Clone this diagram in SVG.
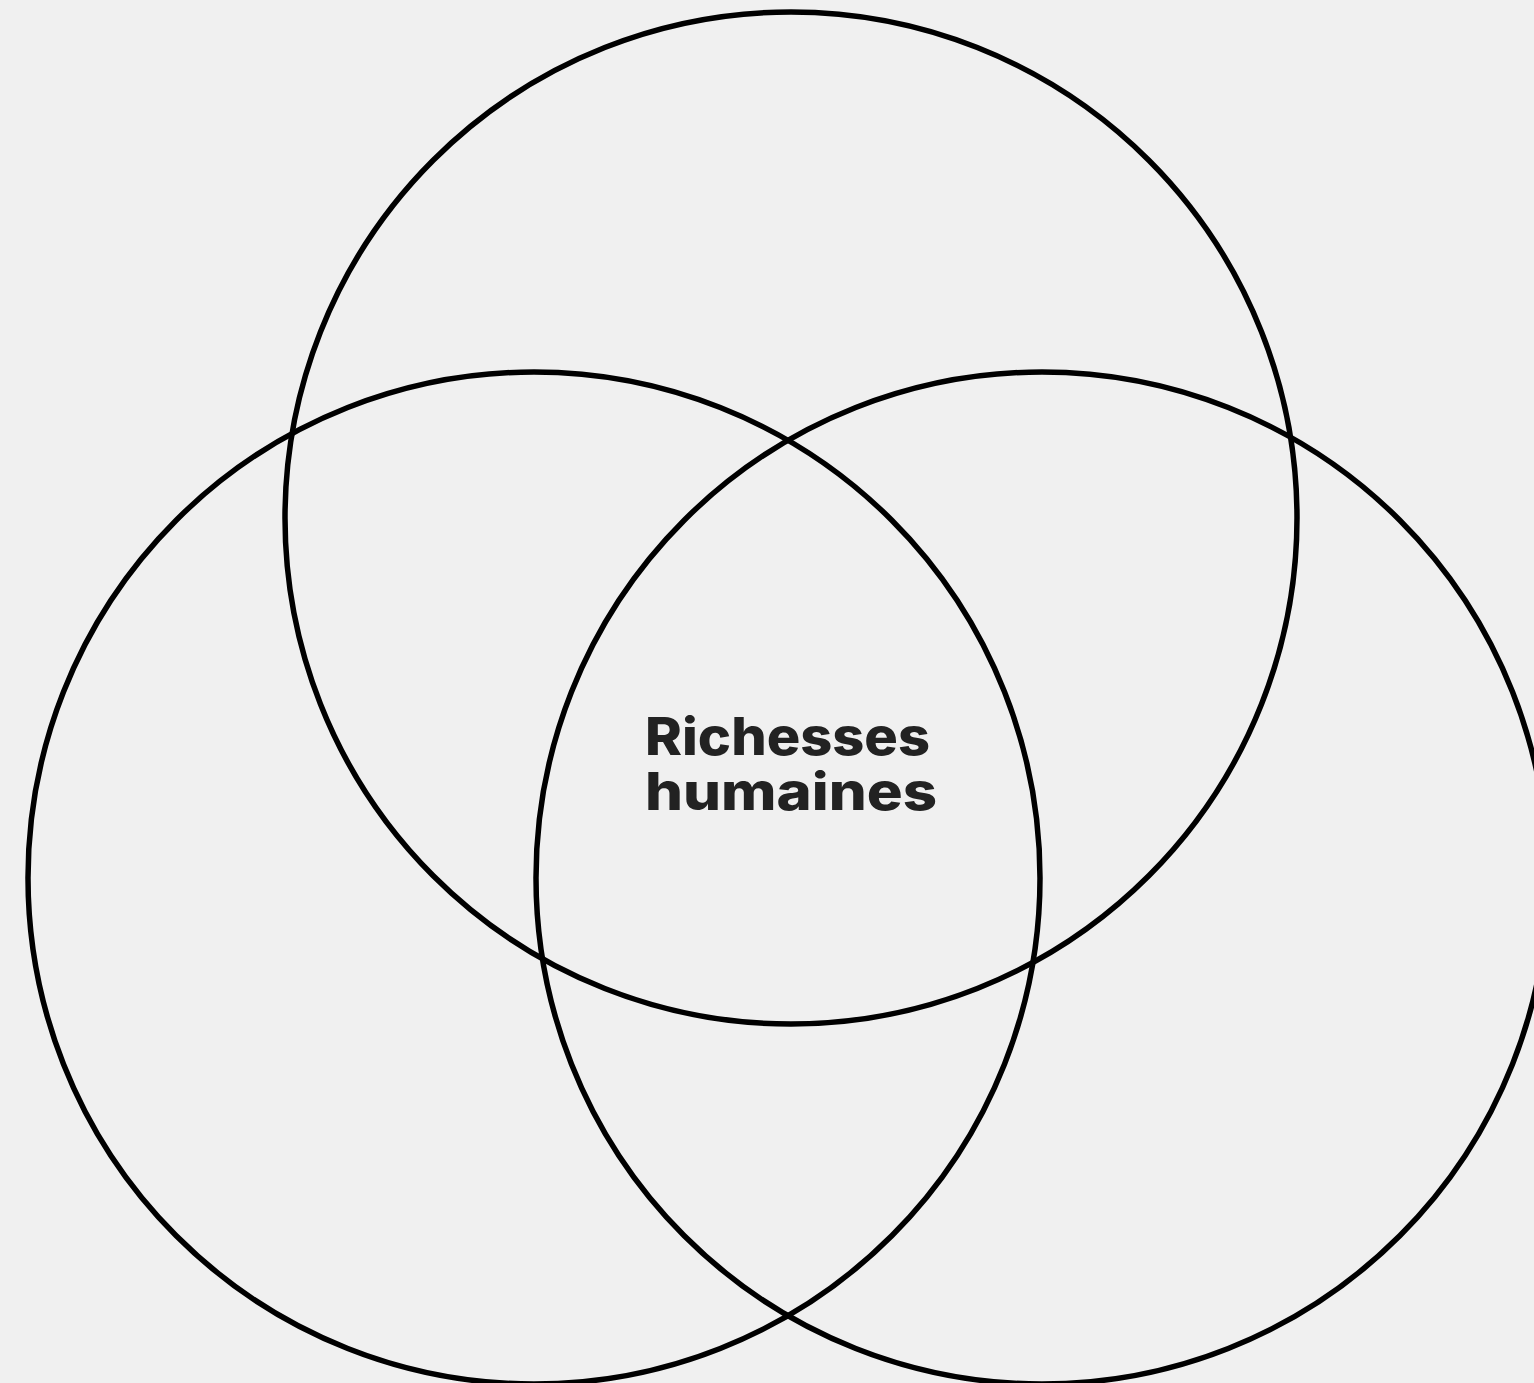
<svg xmlns="http://www.w3.org/2000/svg" width="1534" height="1383" viewBox="0 0 1534 1383">
<style>
.ring{fill:none;stroke:#000;stroke-width:5.5}
.lbl{font-family:Inter,"Liberation Sans",sans-serif;font-weight:800;font-size:52px;fill:#222}
</style>
<rect width="1534" height="1383" fill="#f0f0f0"/>
<g id="circle-top"><circle class="ring" cx="791" cy="518" r="506"/></g>
<g id="circle-left"><circle class="ring" cx="534" cy="878" r="506"/></g>
<g id="circle-right"><circle class="ring" cx="1042" cy="878" r="506"/></g>
<g id="center-label">
<text class="lbl"><tspan x="645" y="755" textLength="285" lengthAdjust="spacingAndGlyphs">Richesses</tspan><tspan x="645" y="810" textLength="292" lengthAdjust="spacingAndGlyphs">humaines</tspan></text>
</g>
</svg>
